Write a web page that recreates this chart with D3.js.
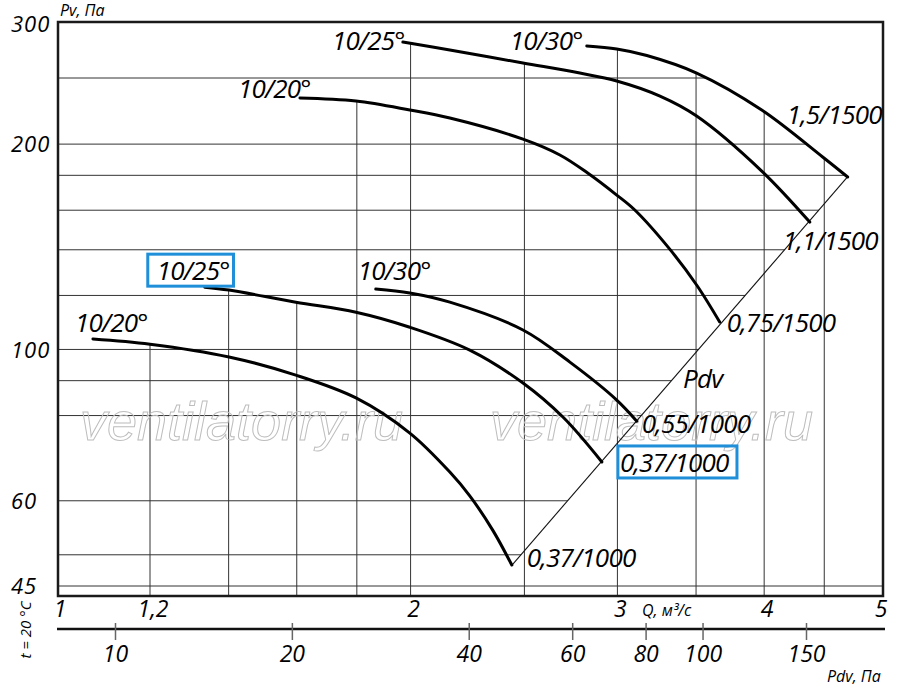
<!DOCTYPE html>
<html>
<head>
<meta charset="utf-8">
<script src="https://cdn.jsdelivr.net/npm/d3@7"></script>
<style>
html, body { margin: 0; padding: 0; background: #fff; }
svg { display: block; font-family: "Open Sans", sans-serif; font-style: italic; }
</style>
</head>
<body>
<svg id="chart" width="900" height="688"></svg>
<script>
// оси и сетка
const yTicks = [300, 200, 100, 60, 45];
const yGrid = [250, 200, 180, 160, 140, 120, 100, 90, 80, 60, 50];
const xTicks = [1, 1.2, 2, 3, 4, 5];
const xTickLabels = ['1', '1,2', '2', '3', '4', '5'];
const xGrid = [1.2, 1.4, 1.6, 1.8, 2, 2.5, 3, 3.5, 4, 4.5];
const pdvTicks = [10, 20, 40, 60, 80, 100, 150];

// характеристики: Q, м3/с и Pv, Па
const up20Q = [1.61, 1.797, 1.997, 2.16, 2.493, 2.68, 2.83, 2.996, 3.104, 3.324, 3.504, 3.666];
const up20P = [233.7, 231.3, 224.4, 218.4, 203.4, 192.8, 181.4, 168.4, 160.1, 140.3, 124.3, 109.7];
const up25Q = [1.97, 2.16, 2.493, 2.787, 2.996, 3.261, 3.504, 3.981, 4.374];
const up25P = [282.3, 274.8, 263.0, 254.2, 247.5, 235.2, 219.9, 182.6, 153.7];
const up30Q = [2.825, 2.996, 3.178, 3.504, 3.981, 4.486, 4.711];
const up30P = [278.5, 275.7, 269.7, 254.2, 224.4, 191.5, 179.0];
const lo20Q = [1.073, 1.2, 1.401, 1.597, 1.797, 1.997, 2.16, 2.246, 2.35, 2.439];
const lo20P = [103.6, 101.8, 97.5, 91.7, 84.9, 75.4, 66.1, 61.0, 54.3, 48.3];
const lo25Q = [1.336, 1.401, 1.597, 1.797, 1.997, 2.246, 2.493, 2.696, 2.91];
const lo25P = [123.4, 122.2, 117.3, 113.4, 107.8, 99.8, 89.3, 79.6, 68.4];
const lo30Q = [1.868, 1.997, 2.16, 2.493, 2.733, 2.996, 3.116];
const lo30P = [122.6, 121.0, 117.3, 106.8, 95.8, 84.3, 78.5];

// линия динамического давления
const pdvLineQ = [2.44, 4.71];
const pdvLineP = [48.3, 179.0];

const W = 900, H = 688;
const frame = { left: 58, top: 22, right: 883, bottom: 596 };

const x = d3.scaleLog().domain([1, 5]).range([57, 878]);
const y = d3.scaleLog().domain([45, 300]).range([586, 24]);
const xPdv = d3.scaleLog().domain([10, 150]).range([115, 806]);

const zip = (qs, ps) => qs.map((q, i) => [q, ps[i]]);

// подписи привязаны к началу и концу кривой, box = [слева, справа] для рамки
const curves = [
    { pts: zip(up20Q, up20P), from: '10/20°', fdx: -62, fdy: 0, to: '0,75/1500', tdx: 7, tdy: 10 },
    { pts: zip(up25Q, up25P), from: '10/25°', fdx: -71, fdy: 8, to: '1,1/1500', tdx: -27, tdy: 28 },
    { pts: zip(up30Q, up30P), from: '10/30°', fdx: -77, fdy: 4, to: '1,5/1500', tdx: -61, tdy: -53 },
    { pts: zip(lo20Q, lo20P), from: '10/20°', fdx: -18, fdy: -7, to: '0,37/1000', tdx: 15, tdy: 2 },
    { pts: zip(lo25Q, lo25P), from: '10/25°', fdx: -48, fdy: -7, to: '0,37/1000', tdx: 18, tdy: 10,
      box: [[9, 4], [2, 8]] },
    { pts: zip(lo30Q, lo30P), from: '10/30°', fdx: -18, fdy: -9, to: '0,55/1000', tdx: 5, tdy: 12 }
];
const pdvPts = zip(pdvLineQ, pdvLineP);

const svg = d3.select('#chart');
const curveType = d3.curveCatmullRom.alpha(0.5);
const line = d3.line().x(d => x(d[0])).y(d => y(d[1])).curve(curveType);
const area = d3.area().x(d => x(d[0])).y0(frame.bottom).y1(d => y(d[1])).curve(curveType);

// вертикали видны только под кривыми, горизонтали - левее внешней границы
const defs = svg.append('defs');
defs.append('clipPath').attr('id', 'clipV')
    .selectAll('path').data(curves).join('path')
    .attr('d', c => area(c.pts));

const outer = curves[2].pts;
const low = [x(pdvPts[0][0]), y(pdvPts[0][1])];
const hClip = `M0,0L${x(outer[0][0])},0` + line(outer).replace(/^M/, 'L') +
    `L${low[0]},${low[1]}L${low[0]},${H}L0,${H}Z`;
defs.append('clipPath').attr('id', 'clipH').append('path').attr('d', hClip);

const grid = svg.append('g').attr('stroke', '#333').attr('stroke-width', 1);
grid.append('g').attr('clip-path', 'url(#clipH)')
    .selectAll('line').data(yGrid).join('line')
    .attr('x1', frame.left).attr('x2', frame.right)
    .attr('y1', d => y(d)).attr('y2', d => y(d));
grid.append('line')
    .attr('x1', frame.left).attr('x2', frame.right)
    .attr('y1', y(45)).attr('y2', y(45));
grid.append('g').attr('clip-path', 'url(#clipV)')
    .selectAll('line').data(xGrid).join('line')
    .attr('x1', d => x(d)).attr('x2', d => x(d))
    .attr('y1', frame.top).attr('y2', frame.bottom);

// водяной знак
svg.append('g')
    .attr('font-family', '"Liberation Sans", Arial, sans-serif')
    .attr('font-size', 54)
    .attr('fill', 'none').attr('stroke', '#bdbdbd').attr('stroke-width', 1)
    .selectAll('text').data([80, 490]).join('text')
    .attr('x', d => d).attr('y', 440)
    .text('ventilatorry.ru');

// рамка
svg.append('rect')
    .attr('x', frame.left).attr('y', frame.top)
    .attr('width', frame.right - frame.left).attr('height', frame.bottom - frame.top)
    .attr('fill', 'none').attr('stroke', '#1a1a1a').attr('stroke-width', 2.5);

// линия Pdv
svg.append('path')
    .attr('d', d3.line().x(d => x(d[0])).y(d => y(d[1]))(pdvPts))
    .attr('fill', 'none').attr('stroke', '#111').attr('stroke-width', 1.1);

// кривые
svg.append('g').selectAll('path').data(curves).join('path')
    .attr('d', c => line(c.pts))
    .attr('fill', 'none').attr('stroke', '#000').attr('stroke-width', 3)
    .attr('stroke-linecap', 'round');

// подписи кривых
const lab = svg.append('g').attr('font-size', 26).attr('letter-spacing', -0.8).attr('fill', '#000');
curves.forEach(c => {
    const s = c.pts[0], e = c.pts[c.pts.length - 1];
    const t1 = lab.append('text')
        .attr('x', x(s[0]) + c.fdx).attr('y', y(s[1]) + c.fdy).text(c.from);
    const t2 = lab.append('text')
        .attr('x', x(e[0]) + c.tdx).attr('y', y(e[1]) + c.tdy).text(c.to);
    if (c.box) {
        [t1, t2].forEach((t, i) => {
            const b = t.node().getBBox();
            const base = +t.attr('y');
            const pad = c.box[i];
            lab.append('rect')
                .attr('x', b.x - pad[0]).attr('y', base - 26)
                .attr('width', b.width + pad[0] + pad[1]).attr('height', 32)
                .attr('fill', 'none').attr('stroke', '#1e8fd8').attr('stroke-width', 3);
        });
    }
});
const pdvMark = [3.3, 8.07 * 3.3 * 3.3];
lab.append('text').attr('x', x(pdvMark[0]) + 17).attr('y', y(pdvMark[1])).text('Pdv');

// подписи осей
svg.append('g').attr('font-size', 22).attr('letter-spacing', 1)
    .selectAll('text').data(yTicks).join('text')
    .attr('x', 11).attr('y', d => y(d)).attr('dy', '0.38em')
    .text(d => d);

svg.append('g').attr('font-size', 23).attr('text-anchor', 'middle')
    .selectAll('text').data(xTicks).join('text')
    .attr('x', d => x(d) + 3).attr('y', 617)
    .text((d, i) => xTickLabels[i]);

const small = svg.append('g').attr('font-size', 16);
small.append('text').attr('x', 60).attr('y', 16).text('Pv, Па');
small.append('text').attr('x', 642).attr('y', 616).text('Q, м³/с');
small.append('text').attr('x', 827).attr('y', 682).text('Pdv, Па');
small.append('text').attr('transform', 'translate(31,630) rotate(-90)')
    .attr('text-anchor', 'middle').attr('font-size', 15).text('t = 20 °C');

// шкала Pdv
const pdvAxis = d3.axisBottom(xPdv).tickValues(pdvTicks).tickFormat(d3.format('d')).tickSize(11);
const gA = svg.append('g').attr('transform', 'translate(0,629)').call(pdvAxis);
gA.attr('font-family', null).attr('font-size', 23);
gA.select('.domain').attr('d', 'M57,0H885').attr('stroke', '#111').attr('stroke-width', 2.5);
gA.selectAll('.tick line').attr('y1', -6).attr('stroke', '#666').attr('stroke-width', 1.5);
gA.selectAll('.tick text').attr('y', 33).attr('dy', 0).attr('fill', '#000');
</script>
</body>
</html>
